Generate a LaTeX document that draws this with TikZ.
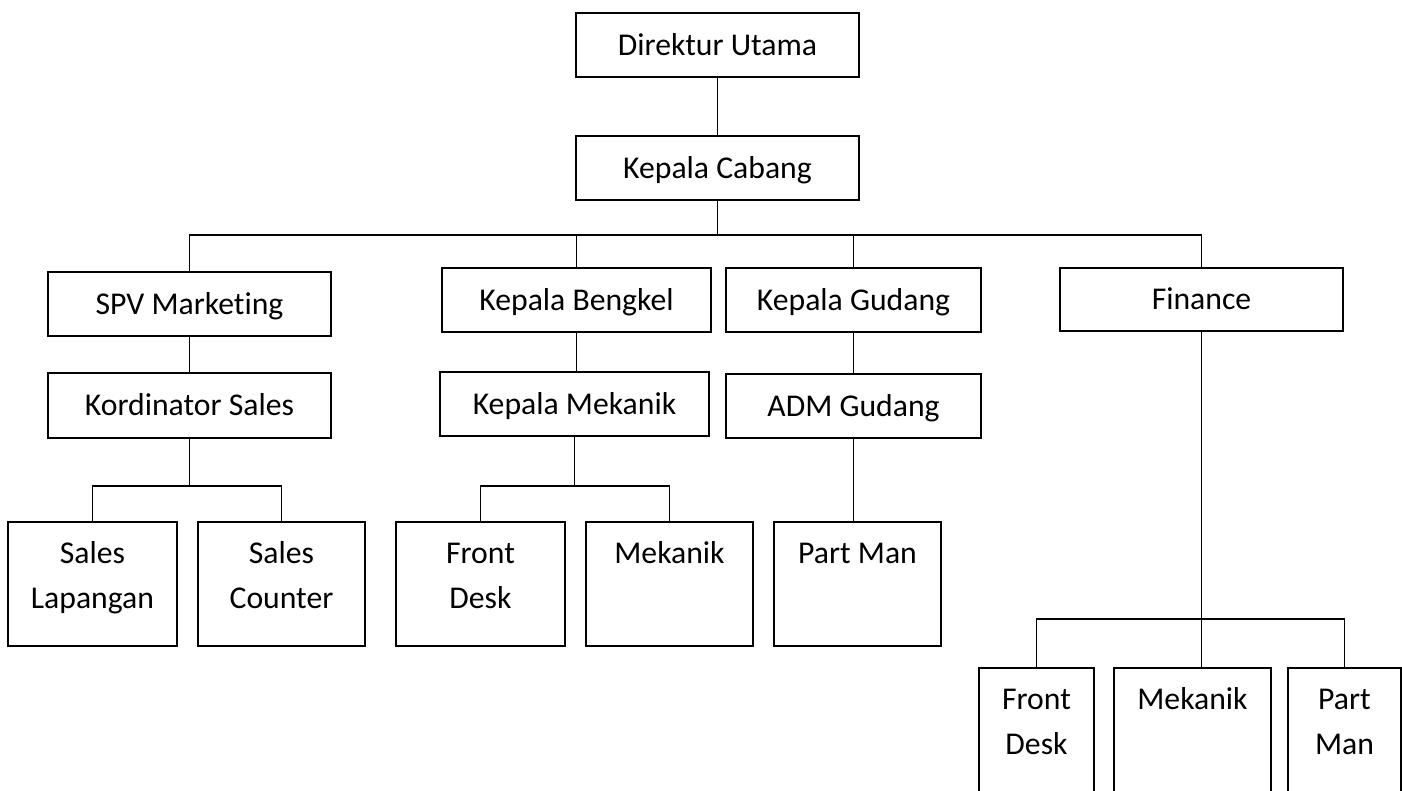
\documentclass[tikz,border=0pt]{standalone}
\usepackage{fontspec}
\setmainfont{Carlito}[Ligatures=NoCommon]
\newcommand{\twolines}[2]{\begin{tabular}[t]{@{}c@{}}#1\\#2\end{tabular}}
\begin{document}
\begin{tikzpicture}[x=1pt,y=-1pt,
  box/.style={draw, line width=1.9pt, inner sep=0pt,
    font=\fontsize{31.7}{45}\selectfont, text height=20.4pt, text depth=0pt},
  tallbox/.style={box, minimum height=124pt, text depth=62.4pt},
  link/.style={line width=1.9pt}]
\useasboundingbox (0,0) rectangle (1402,790);
% top levels
\node[box, minimum width=283pt, minimum height=64pt] (du) at (717.5,45) {Direktur Utama};
\node[box, minimum width=283pt, minimum height=64pt] (kc) at (717.5,168) {Kepala Cabang};
% second level
\node[box, minimum width=283pt, minimum height=64pt] (spv) at (189.5,304) {SPV Marketing};
\node[box, minimum width=283pt, minimum height=65pt] (ks) at (189.5,405.5) {Kordinator Sales};
\node[box, minimum width=269pt, minimum height=64pt] (kb) at (576.5,300) {Kepala Bengkel};
\node[box, minimum width=269pt, minimum height=64pt] (km) at (574.5,404) {Kepala Mekanik};
\node[box, minimum width=255pt, minimum height=64pt] (kg) at (853.5,300) {Kepala Gudang};
\node[box, minimum width=255pt, minimum height=64pt] (adm) at (853.5,406) {ADM Gudang};
\node[box, minimum width=283pt, minimum height=63pt] (fin) at (1201.5,299.5) {Finance};
% bottom level
\node[tallbox, minimum width=169pt] (sl) at (92.5,584) {\twolines{Sales}{Lapangan}};
\node[tallbox, minimum width=167pt] (sc) at (281.5,584) {\twolines{Sales}{Counter}};
\node[tallbox, minimum width=169pt] (fd) at (480.5,584) {\twolines{Front}{Desk}};
\node[tallbox, minimum width=167pt] (mk) at (669.5,584) {Mekanik};
\node[tallbox, minimum width=167pt] (pm) at (857.5,584) {Part Man};
\node[tallbox, minimum width=115pt] (fd2) at (1036.5,730) {\twolines{Front}{Desk}};
\node[tallbox, minimum width=157pt] (mk2) at (1192.5,730) {Mekanik};
\node[tallbox, minimum width=113pt] (pm2) at (1344.5,730) {\twolines{Part}{Man}};
% bus coordinates
\coordinate (bus) at (719,235);
\coordinate (sbus) at (186,486);
\coordinate (mbus) at (577,486);
\coordinate (fbus) at (1202,619);
% connectors
\draw[link] (du.south) -- (kc.north);
\draw[link] (kc.south) -- (kc.south |- bus);
\draw[link] (spv.north) -- (spv.north |- bus) -- (fin.north |- bus) -- (fin.north);
\draw[link] (kb.north) -- (kb.north |- bus);
\draw[link] (kg.north) -- (kg.north |- bus);
\draw[link] (spv.south) -- (ks.north);
\draw[link] (ks.south) -- (ks.south |- sbus);
\draw[link] (sl.north) -- (sl.north |- sbus) -- (sc.north |- sbus) -- (sc.north);
\draw[link] (kb.south) -- (kb.south |- km.north);
\draw[link] (km.south) -- (km.south |- mbus);
\draw[link] (fd.north) -- (fd.north |- mbus) -- (mk.north |- mbus) -- (mk.north);
\draw[link] (kg.south) -- (adm.north);
\draw[link] (adm.south) -- (adm.south |- pm.north);
\draw[link] (fin.south) -- (fin.south |- mk2.north);
\draw[link] (fd2.north) -- (fd2.north |- fbus) -- (pm2.north |- fbus) -- (pm2.north);
\end{tikzpicture}
\end{document}
